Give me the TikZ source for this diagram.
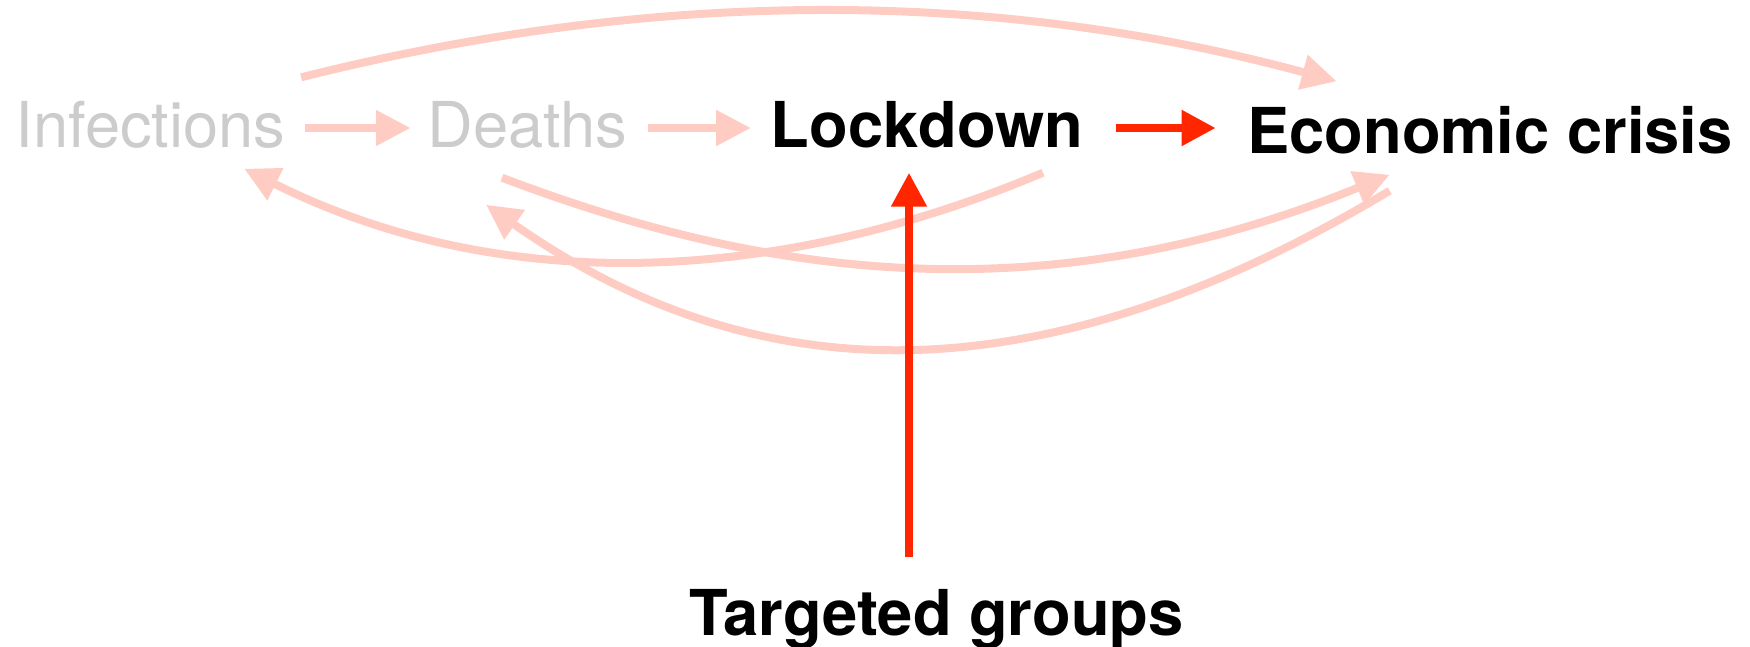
\documentclass[tikz,border=0pt]{standalone}
\usepackage{fontspec}
\setmainfont{TeX Gyre Heros}
\usetikzlibrary{arrows.meta}
\definecolor{keyred}{RGB}{255,38,0}
\definecolor{palered}{RGB}{255,204,196}
\definecolor{fadegray}{RGB}{204,204,204}

\begin{document}
\begin{tikzpicture}[font=\fontsize{18pt}{21pt}\selectfont,
	lbl/.style={inner sep=0pt,text height=0.38cm,text depth=0cm,anchor=base},
	lite/.style={line width=0.08cm,palered,-{Triangle[length=3.5mm,width=3.4mm]}},
	hot/.style={line width=0.08cm,keyred,-{Triangle[length=3.4mm,width=3.4mm]}}]
	\useasboundingbox (0,0) rectangle (17.5,-6.46);
	
	%labels
	\node[lbl,fadegray] (inf) at (1.505,-1.47) {Infections}; %Infections
	\node[lbl,fadegray] (dea) at (5.275,-1.47) {Deaths}; %Deaths
	\node[lbl,font=\fontsize{18pt}{21pt}\selectfont\bfseries] (lock) at (9.27,-1.47) {Lockdown}; %Lockdown
	\node[lbl,font=\fontsize{18pt}{21pt}\selectfont\bfseries] (eco) at (14.9,-1.53) {Economic crisis}; %Economic crisis
	\node[lbl,font=\fontsize{18pt}{21pt}\selectfont\bfseries] (tg) at (9.365,-6.35) {Targeted groups}; %Targeted groups
	
	%faded chain
		\draw[lite,shorten <=0.19cm,shorten >=0.16cm] (inf) -- (dea); %Infections to Deaths
		\draw[lite,shorten <=0.20cm,shorten >=0.19cm] (dea) -- (lock); %Deaths to Lockdown
		
		%faded feedback curves
		\draw[lite] ([shift={(0.15,0.31)}]inf.north east) .. controls +(3.63,0.91) and +(-3.36,0.91) .. ([shift={(0.90,0.33)}]eco.north west); %top arc
		\draw[lite] ([shift={(-0.255,-0.30)}]dea.south) .. controls +(2.60,-0.99) and +(-3.47,-1.42) .. ([shift={(1.43,-0.21)}]eco.south west); %Deaths to crisis
		\draw[lite] ([shift={(-0.41,-0.25)}]lock.south east) .. controls +(-2.56,-1.08) and +(2.65,-1.32) .. ([shift={(-0.42,-0.21)}]inf.south east); %Lockdown to Infections
		\draw[lite] ([shift={(1.43,-0.37)}]eco.south west) .. controls +(-3.50,-2.10) and +(2.71,-1.90) .. ([shift={(-0.415,-0.57)}]dea.south); %crisis to Deaths
	
	%red arrows
		\draw[hot,shorten <=0.32cm,shorten >=0.31cm] (lock) -- (lock -| eco.west); %Lockdown to crisis
		\coordinate (tgtop) at ([shift={(-0.275,0.39)}]tg.north); %top of group arrow
		\draw[hot,shorten >=0.25cm] (tgtop) -- (tgtop |- lock.south); %groups to Lockdown
\end{tikzpicture}
\end{document}
